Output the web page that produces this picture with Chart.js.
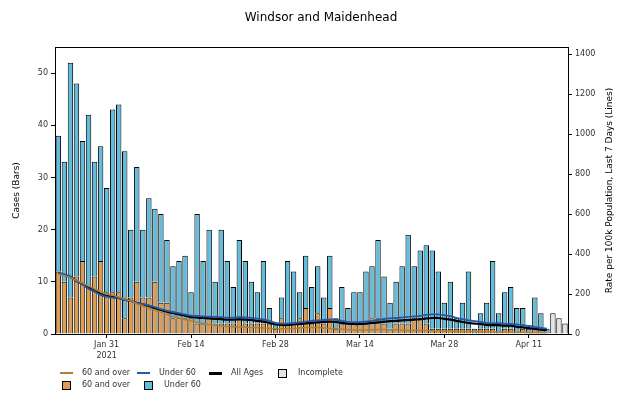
<!DOCTYPE html>
<html>
<head>
<meta charset="utf-8">
<script src="https://cdn.jsdelivr.net/npm/chart.js@4.4.1/dist/chart.umd.min.js"></script>
<style>
body { margin: 0; background: #fff; font-family: "DejaVu Sans", sans-serif; }
#wrap { position: relative; width: 621px; height: 398px; }
.lg { position: absolute; font-size: 8px; color: #333; white-space: nowrap; line-height: 10px; }
.ln { position: absolute; width: 13px; height: 2px; }
.bx { position: absolute; width: 7px; height: 7px; border: 1px solid #000; }
</style>
</head>
<body>
<div id="wrap">
  <canvas id="myChart" width="621" height="398"></canvas>
</div>
<script>
// days counted from Jan 31 2021 (day 0), first bar is Jan 23
var firstDay = -8;
var tickDays = [0, 14, 28, 42, 56, 70];
var tickLabels = [['Jan 31', '2021'], 'Feb 14', 'Feb 28', 'Mar 14', 'Mar 28', 'Apr 11'];
var caseTicks = [0, 10, 20, 30, 40, 50];
var rateTicks = [0, 200, 400, 600, 800, 1000, 1200, 1400];

// cases per day (bars)
var over60 = [12,10,7,11,14,9,11,14,8,8,
  8,3,7,10,7,7,10,6,6,3,
  3,3,3,2,2,3,2,2,2,2,
  3,2,2,2,2,2,1,3,2,2,
  3,5,2,4,2,5,1,2,2,2,
  2,2,3,3,2,1,2,2,2,3,
  3,2,1,1,1,1,1,1,1,0,
  1,1,1,0,1,1,0,1,0,1,
  0,0];
var under60 = [26,23,45,37,23,33,22,22,20,35,
  36,32,13,22,13,19,14,17,12,10,
  11,12,5,21,12,17,8,18,12,7,
  15,12,8,6,12,3,1,4,12,10,
  5,10,7,9,5,10,2,7,3,6,
  6,10,10,15,9,5,8,11,17,10,
  13,15,15,11,5,9,2,5,11,1,
  3,5,13,4,7,8,5,4,1,6,
  4,1];
var incomplete = [4, 3, 2];

// rate per 100k, last 7 days (lines)
var allAgesRate = [306,295,285,265,250,230,215,200,190,185,
  180,172,165,155,148,140,130,120,112,105,
  98,92,85,82,80,78,76,74,72,72,
  73,72,70,66,62,55,48,45,45,48,
  50,53,56,58,60,62,60,56,52,50,
  50,52,55,58,62,64,66,68,70,72,
  74,78,80,80,76,72,66,60,55,52,
  50,46,44,44,42,42,36,33,30,26,
  22,20];
var over60Rate = [300,292,282,268,255,240,225,212,200,195,
  185,175,165,152,140,128,118,108,98,88,
  80,72,65,58,52,48,44,40,38,36,
  35,34,33,32,30,28,26,26,27,28,
  30,32,33,32,30,28,26,24,22,20,
  20,20,21,22,22,21,20,19,18,18,
  18,17,16,15,14,14,13,13,12,12,
  12,11,11,10,10,10,9,9,8,8,
  8,7];
var under60Rate = [308,298,287,265,248,226,212,196,186,182,
  178,171,165,156,150,143,134,124,116,110,
  104,98,92,90,88,87,86,84,82,82,
  84,83,81,77,73,65,56,52,52,55,
  58,62,66,68,70,73,71,66,61,59,
  59,62,66,70,75,78,80,83,86,88,
  91,96,98,98,94,89,81,74,68,64,
  61,56,54,54,51,51,48,44,40,36,
  30,27];

var orangeBar = '#dc9d55';
var blueBar = '#62bcdc';
var orangeLine = '#b08030';
var blueLine = '#2458a8';
var greyBar = '#e4e4e4';

function pts(values, start) {
    return values.map(function (v, i) { return {x: start + i, y: v}; });
}

// box round the plot, title and right-hand axis title (reads bottom to top)
var frame = {
    id: 'frame',
    afterDatasetsDraw: function (chart) {
        var a = chart.chartArea, ctx = chart.ctx;
        ctx.save();
        ctx.strokeStyle = '#000';
        ctx.lineWidth = 1;
        ctx.strokeRect(Math.round(a.left) + 0.5, Math.round(a.top) + 0.5,
            Math.round(a.right - a.left), Math.round(a.bottom - a.top));
        ctx.fillStyle = '#000';
        ctx.textAlign = 'center';
        ctx.textBaseline = 'middle';
        ctx.font = '12px "DejaVu Sans"';
        ctx.fillText('Windsor and Maidenhead', 321, 18);
        ctx.font = '9px "DejaVu Sans"';
        ctx.translate(610, (a.top + a.bottom) / 2);
        ctx.rotate(-Math.PI / 2);
        ctx.fillText('Rate per 100k Population, Last 7 Days (Lines)', 0, 0);
        ctx.restore();
    }
};

var tickFont = {family: 'DejaVu Sans', size: 8};

var config = {
    type: 'bar',
    data: {
        datasets: [
            {type: 'line', label: '60 and over', data: pts(over60Rate, firstDay), yAxisID: 'y2',
             borderColor: orangeLine, borderWidth: 1.5, pointRadius: 0, tension: 0.3, order: 0},
            {type: 'line', label: 'Under 60', data: pts(under60Rate, firstDay), yAxisID: 'y2',
             borderColor: blueLine, borderWidth: 1.8, pointRadius: 0, tension: 0.3, order: 0},
            {type: 'line', label: 'All Ages', data: pts(allAgesRate, firstDay), yAxisID: 'y2',
             borderColor: '#000', borderWidth: 2.2, pointRadius: 0, tension: 0.3, order: 0},
            {label: '60 and over', data: pts(over60, firstDay), backgroundColor: orangeBar,
             borderColor: '#000', borderWidth: 1, stack: 'a', order: 1},
            {label: 'Under 60', data: pts(under60, firstDay), backgroundColor: blueBar,
             borderColor: '#000', borderWidth: 1, stack: 'a', order: 1},
            {label: 'Incomplete', data: pts(incomplete, firstDay + over60.length), backgroundColor: greyBar,
             borderColor: '#000', borderWidth: 1, stack: 'a', order: 1}
        ]
    },
    options: {
        animation: false,
        responsive: false,
        layout: {padding: {top: 47}},
        barPercentage: 0.9,
        categoryPercentage: 1,
        plugins: {
            legend: {display: false},
            tooltip: {enabled: false},
            title: {display: false}
        },
        scales: {
            x: {
                type: 'linear', stacked: true, offset: false,
                min: -8.56, max: 76.5,
                afterBuildTicks: function (s) {
                    s.ticks = tickDays.map(function (v) { return {value: v}; });
                },
                afterFit: function (s) { s.height = 64; },
                grid: {display: true, drawOnChartArea: false, drawTicks: true, tickLength: 4, color: '#000', offset: false},
                border: {display: false},
                ticks: {
                    color: '#333', font: {family: 'DejaVu Sans', size: 8, lineHeight: 1.45},
                    padding: 1, maxRotation: 0, autoSkip: false,
                    callback: function (v) {
                        var k = tickDays.indexOf(v);
                        return k >= 0 ? tickLabels[k] : '';
                    }
                }
            },
            y: {
                position: 'left', stacked: true, min: 0, max: 55,
                afterBuildTicks: function (s) {
                    s.ticks = caseTicks.map(function (v) { return {value: v}; });
                },
                afterFit: function (s) { s.width = 55; },
                grid: {display: true, drawOnChartArea: false, drawTicks: true, tickLength: 4, color: '#000'},
                border: {display: false},
                ticks: {color: '#333', font: tickFont, padding: 3,
                    callback: function (v) { return String(v); }},
                title: {display: true, text: 'Cases (Bars)', color: '#000',
                    font: {family: 'DejaVu Sans', size: 9}, padding: {top: 11, bottom: 0}}
            },
            y2: {
                position: 'right', min: 0, max: 1435,
                afterBuildTicks: function (s) {
                    s.ticks = rateTicks.map(function (v) { return {value: v}; });
                },
                afterFit: function (s) { s.width = 53; },
                grid: {display: true, drawOnChartArea: false, drawTicks: true, tickLength: 4, color: '#000'},
                border: {display: false},
                ticks: {color: '#333', font: tickFont, padding: 3,
                    callback: function (v) { return String(v); }}
            }
        }
    },
    plugins: [frame]
};

var myChart = new Chart(document.getElementById('myChart'), config);

// legend below the axis, two rows like the original
var legendItems = [
    {kind: 'line', color: orangeLine, text: '60 and over', x: 60, y: 373},
    {kind: 'line', color: blueLine, text: 'Under 60', x: 137, y: 373},
    {kind: 'line', color: '#000', text: 'All Ages', x: 209, y: 373},
    {kind: 'box', color: greyBar, text: 'Incomplete', x: 278, y: 373},
    {kind: 'box', color: orangeBar, text: '60 and over', x: 62, y: 385},
    {kind: 'box', color: blueBar, text: 'Under 60', x: 144, y: 385}
];
var wrap = document.getElementById('wrap');
legendItems.forEach(function (it) {
    var m = document.createElement('div');
    if (it.kind === 'line') {
        m.className = 'ln';
        m.style.left = it.x + 'px';
        m.style.top = (it.y - 1) + 'px';
        m.style.background = it.color;
        if (it.color === '#000') m.style.height = '2.5px';
    } else {
        m.className = 'bx';
        m.style.left = it.x + 'px';
        m.style.top = (it.y - 4) + 'px';
        m.style.background = it.color;
    }
    wrap.appendChild(m);
    var t = document.createElement('div');
    t.className = 'lg';
    t.textContent = it.text;
    t.style.left = (it.kind === 'line' ? it.x + 22 : it.x + 20) + 'px';
    t.style.top = (it.y - 5) + 'px';
    wrap.appendChild(t);
});
</script>
</body>
</html>
